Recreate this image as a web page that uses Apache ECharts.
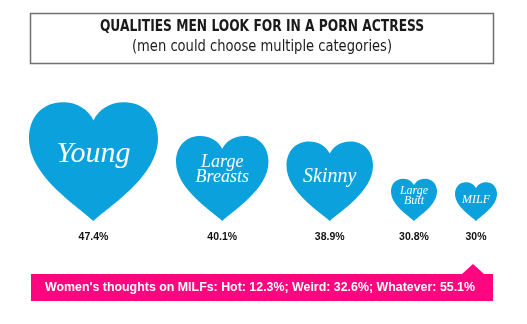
<!DOCTYPE html>
<html>
<head>
<meta charset="utf-8">
<script src="https://cdn.jsdelivr.net/npm/echarts@6/dist/echarts.min.js"></script>
<style>
  html, body { margin: 0; padding: 0; background: #ffffff; }
  #chart { width: 527px; height: 324px; }
</style>
</head>
<body>
<div id="chart"></div>
<script>
// Survey: what men look for (multiple answers allowed)
const categories = ['Young', 'Large\nBreasts', 'Skinny', 'Large\nButt', 'MILF'];
const shares = [47.4, 40.1, 38.9, 30.8, 30];

// Women's view on MILFs
const milfViewLabels = ['Hot', 'Weird', 'Whatever'];
const milfViewShares = [12.3, 32.6, 55.1];

const HEART_BLUE = '#0aa1dc';
const PINK = '#fd067f';
const HEART_PATH = 'M50,92 C40,82 0,58 0,28 C0,11 11,0 26,0 C38,0 46,6 50,14 C54,6 62,0 74,0 C89,0 100,11 100,28 C100,58 60,82 50,92 Z';
const HEART_RATIO = 0.92;
const ROW_LEFT = 29;
const ROW_GAP = 18;
const BASELINE = 221;
const MIN_SIZE = 42, MAX_SIZE = 129;
const CONDENSED = '"Liberation Sans Narrow", "DejaVu Sans Condensed", sans-serif';

const chart = echarts.init(document.getElementById('chart'), null, { renderer: 'canvas' });

function fallbackSize(v) {
  const lo = Math.min.apply(null, shares), hi = Math.max.apply(null, shares);
  return MIN_SIZE + (v - lo) / (hi - lo) * (MAX_SIZE - MIN_SIZE);
}

const footerText = "Women's thoughts on MILFs: " +
  milfViewLabels.map((l, i) => l + ': ' + milfViewShares[i] + '%').join('; ');

const option = {
  backgroundColor: '#ffffff',
  animation: false,
  visualMap: {
    type: 'continuous',
    show: false,
    seriesIndex: 0,
    dimension: 1,
    min: Math.min.apply(null, shares),
    max: Math.max.apply(null, shares),
    inRange: { symbolSize: [MIN_SIZE, MAX_SIZE] }
  },
  graphic: [
    {
      type: 'rect',
      shape: { x: 30.5, y: 13.5, width: 463, height: 50 },
      style: { fill: '#ffffff', stroke: '#707070', lineWidth: 1.5 }
    },
    {
      type: 'text',
      x: 262, y: 27, scaleX: 0.91,
      style: {
        text: 'QUALITIES MEN LOOK FOR IN A PORN ACTRESS',
        x: 0, y: 0, align: 'center', verticalAlign: 'middle',
        fill: '#1a1a1a',
        font: 'bold 15px ' + CONDENSED
      }
    },
    {
      type: 'text',
      x: 262, y: 47, scaleX: 0.91,
      style: {
        text: '(men could choose multiple categories)',
        x: 0, y: 0, align: 'center', verticalAlign: 'middle',
        fill: '#1a1a1a',
        font: '16px ' + CONDENSED
      }
    },
    {
      type: 'polygon',
      shape: { points: [[31, 274], [462, 274], [473, 264], [484, 274], [493, 274], [493, 301], [31, 301]] },
      style: { fill: PINK }
    },
    {
      type: 'text',
      style: {
        text: footerText,
        x: 260, y: 288, align: 'center', verticalAlign: 'middle',
        fill: '#ffffff',
        font: 'bold 12.4px "Liberation Sans", Arial, sans-serif'
      }
    }
  ],
  series: [{
    type: 'custom',
    coordinateSystem: 'none',
    data: categories.map((c, i) => [i, shares[i]]),
    renderItem: function (params, api) {
      const i = params.dataIndexInside;
      const sizeOf = function (idx) {
        const s = api.visual('symbolSize', idx);
        return typeof s === 'number' ? s : fallbackSize(api.value(1, idx));
      };
      let x = ROW_LEFT;
      for (let j = 0; j < i; j++) x += sizeOf(j) + ROW_GAP;
      const w = sizeOf(i);
      const h = w * HEART_RATIO;
      const top = BASELINE - h;
      const name = categories[api.value(0)];
      const twoLines = name.indexOf('\n') >= 0;
      const fs = twoLines ? Math.max(12, Math.round(w * 0.195)) : Math.max(12, Math.round(w * 0.235));
      const textY = top + h * (twoLines ? 0.4 : 0.44);
      return {
        type: 'group',
        children: [
          {
            type: 'path',
            shape: { pathData: HEART_PATH, x: x, y: top, width: w, height: h },
            style: { fill: HEART_BLUE }
          },
          {
            type: 'text',
            style: {
              text: name,
              x: x + w / 2, y: textY,
              align: 'center', verticalAlign: 'middle',
              fill: '#ffffff',
              font: 'italic ' + fs + 'px "Liberation Serif", "DejaVu Serif", serif',
              lineHeight: Math.round(fs * 0.85)
            }
          },
          {
            type: 'text',
            style: {
              text: api.value(1) + '%',
              x: x + w / 2, y: 237,
              align: 'center', verticalAlign: 'middle',
              fill: '#111111',
              font: 'bold 10.5px "Liberation Sans", Arial, sans-serif'
            }
          }
        ]
      };
    }
  }]
};

chart.setOption(option);
</script>
</body>
</html>
